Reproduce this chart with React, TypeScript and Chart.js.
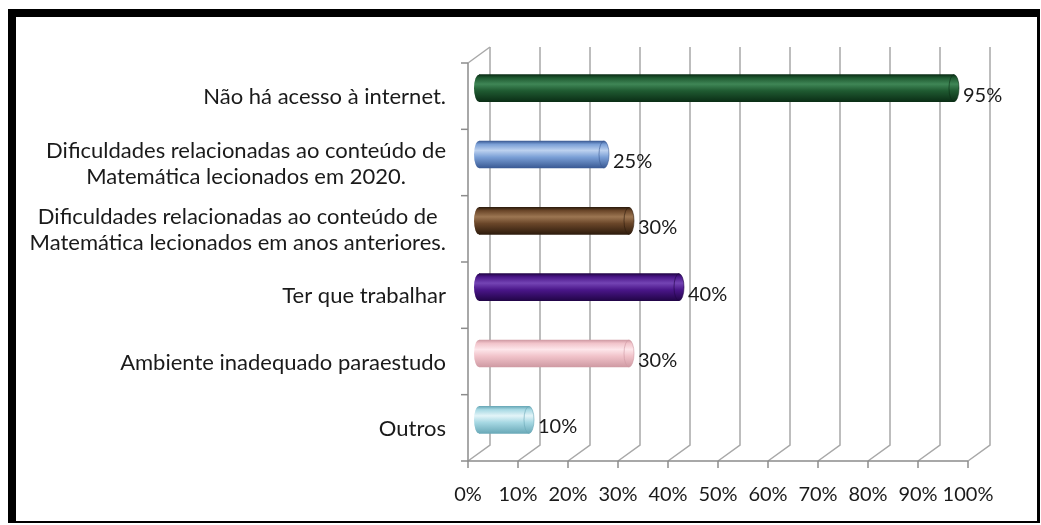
import React, { useEffect, useRef } from "react";
import { Chart, registerables } from "chart.js";

Chart.register(...registerables);

const categories: string[][] = [
  ["Não há acesso à internet."],
  ["Dificuldades relacionadas ao conteúdo de", "Matemática lecionados em 2020."],
  ["Dificuldades relacionadas ao conteúdo de", "Matemática lecionados em anos anteriores."],
  ["Ter que trabalhar"],
  ["Ambiente inadequado paraestudo"],
  ["Outros"],
];
const values = [0.95, 0.25, 0.3, 0.4, 0.3, 0.1];
const valueLabels = ["95%", "25%", "30%", "40%", "30%", "10%"];
const xTickValues = [0, 0.1, 0.2, 0.3, 0.4, 0.5, 0.6, 0.7, 0.8, 0.9, 1];
const xTickLabels = ["0%", "10%", "20%", "30%", "40%", "50%", "60%", "70%", "80%", "90%", "100%"];
// [dark edge, base, highlight]
const barColors: string[][] = [
  ["#0b2e16", "#1f5a31", "#3f8656"],
  ["#3a5a94", "#7a9fd6", "#bcd1ef"],
  ["#2e1c0d", "#6a4629", "#9c7652"],
  ["#220548", "#4a1689", "#7444b4"],
  ["#cf9aa3", "#f1c3ca", "#fde6ea"],
  ["#6aa9b8", "#a6d8e3", "#e3f4f8"],
];

const FONT = "Lato, 'Noto Sans', sans-serif";
const DEPTH_X = 22;
const DEPTH_Y = -16;
const BAR_H = 27;

function makeGradient(ctx: CanvasRenderingContext2D, yc: number, c: string[]) {
  const g = ctx.createLinearGradient(0, yc - BAR_H / 2, 0, yc + BAR_H / 2);
  g.addColorStop(0, c[0]);
  g.addColorStop(0.12, c[1]);
  g.addColorStop(0.35, c[2]);
  g.addColorStop(0.6, c[1]);
  g.addColorStop(1, c[0]);
  return g;
}

const framePlugin = {
  id: "frame3d",
  beforeDatasetsDraw(chart: any) {
    const { ctx, chartArea } = chart;
    const xs = chart.scales.x;
    const { left, top, bottom } = chartArea;
    const n = categories.length;
    const h = (bottom - top) / n;
    ctx.save();
    ctx.strokeStyle = "#a8a8a8";
    ctx.lineWidth = 1.5;
    xTickValues.forEach((v) => {
      const x = xs.getPixelForValue(v);
      ctx.beginPath();
      ctx.moveTo(x + DEPTH_X, top + DEPTH_Y);
      ctx.lineTo(x + DEPTH_X, bottom + DEPTH_Y);
      ctx.lineTo(x, bottom);
      ctx.stroke();
    });
    ctx.beginPath();
    ctx.moveTo(left, top);
    ctx.lineTo(left + DEPTH_X, top + DEPTH_Y);
    ctx.stroke();
    ctx.strokeStyle = "#8c8c8c";
    ctx.beginPath();
    ctx.moveTo(left, top);
    ctx.lineTo(left, bottom);
    ctx.lineTo(xs.getPixelForValue(1), bottom);
    ctx.stroke();
    for (let k = 0; k <= n; k++) {
      const y = top + k * h;
      ctx.beginPath();
      ctx.moveTo(left - 7, y);
      ctx.lineTo(left, y);
      ctx.stroke();
    }
    xTickValues.forEach((v) => {
      const x = xs.getPixelForValue(v);
      ctx.beginPath();
      ctx.moveTo(x, bottom);
      ctx.lineTo(x, bottom + 7);
      ctx.stroke();
    });
    ctx.restore();
    ctx.save();
    ctx.translate(DEPTH_X / 2, DEPTH_Y / 2);
  },
  afterDatasetsDraw(chart: any) {
    const { ctx } = chart;
    const meta = chart.getDatasetMeta(0);
    meta.data.forEach((el: any, i: number) => {
      const c = barColors[i];
      const g = makeGradient(ctx, el.y, c);
      const ry = el.height / 2;
      ctx.beginPath();
      ctx.ellipse(el.base, el.y, 5, ry, 0, 0, Math.PI * 2);
      ctx.fillStyle = g;
      ctx.fill();
      ctx.beginPath();
      ctx.ellipse(el.x, el.y, 5, ry, 0, 0, Math.PI * 2);
      ctx.fillStyle = g;
      ctx.fill();
      ctx.strokeStyle = c[0];
      ctx.globalAlpha = 0.6;
      ctx.lineWidth = 1;
      ctx.stroke();
      ctx.globalAlpha = 1;
    });
    ctx.restore();
    const ys = chart.scales.y;
    ctx.save();
    ctx.font = `20px ${FONT}`;
    ctx.fillStyle = "#1a1a1a";
    ctx.textAlign = "left";
    ctx.textBaseline = "middle";
    meta.data.forEach((el: any, i: number) => {
      const y = ys.getPixelForValue(i) - 1;
      ctx.fillText(valueLabels[i], el.x + DEPTH_X / 2 + 9, y);
    });
    ctx.restore();
  },
  afterDraw(chart: any) {
    const { ctx, chartArea } = chart;
    const ys = chart.scales.y;
    ctx.save();
    ctx.font = `22px ${FONT}`;
    ctx.fillStyle = "#1a1a1a";
    ctx.textAlign = "center";
    ctx.textBaseline = "middle";
    const right = chartArea.left - 22;
    const lh = 26;
    categories.forEach((lines, i) => {
      const yc = ys.getPixelForValue(i) + 1;
      const w = Math.max(...lines.map((l) => ctx.measureText(l).width));
      const cx = right - w / 2;
      lines.forEach((l, j) => {
        ctx.fillText(l, cx, yc + (j - (lines.length - 1) / 2) * lh);
      });
    });
    ctx.restore();
  },
};

export default function App() {
  const ref = useRef<HTMLCanvasElement>(null);
  useEffect(() => {
    if (!ref.current) return;
    const chart = new Chart(ref.current, {
      type: "bar",
      data: {
        labels: categories.map((c) => c.join(" ")),
        datasets: [
          {
            data: values,
            barThickness: BAR_H,
            borderWidth: 0,
            backgroundColor: (c: any) => {
              const chart = c.chart;
              if (!chart.chartArea) return barColors[c.dataIndex][1];
              const y = chart.scales.y.getPixelForValue(c.dataIndex);
              return makeGradient(chart.ctx, y, barColors[c.dataIndex]);
            },
          },
        ],
      },
      options: {
        indexAxis: "y",
        responsive: false,
        animation: false,
        devicePixelRatio: 1,
        layout: { padding: { left: 468, right: 73, top: 63, bottom: 0 } },
        plugins: { legend: { display: false }, tooltip: { enabled: false } },
        scales: {
          y: { type: "category", display: false, offset: true },
          x: {
            type: "linear",
            min: 0,
            max: 1,
            afterFit: (s: any) => {
              s.height = 64;
            },
            afterBuildTicks: (s: any) => {
              s.ticks = xTickValues.map((v) => ({ value: v }));
            },
            grid: { display: false },
            border: { display: false },
            ticks: {
              padding: 14,
              color: "#1a1a1a",
              font: { family: FONT, size: 20 },
              maxRotation: 0,
              autoSkip: false,
              callback: (_v: any, i: number) => xTickLabels[i],
            },
          },
        },
      },
      plugins: [framePlugin],
    });
    return () => chart.destroy();
  }, []);
  return (
    <div style={{ position: "fixed", left: 0, top: 0, width: 1041, height: 525, background: "#fff" }}>
      <canvas ref={ref} width={1041} height={525} style={{ position: "absolute", left: 0, top: 0 }} />
      <div
        style={{
          position: "absolute",
          left: 8,
          top: 9,
          width: 1032,
          height: 514,
          boxSizing: "border-box",
          borderLeft: "8px solid #000",
          borderTop: "8px solid #000",
          borderRight: "3px solid #000",
          borderBottom: "2px solid #000",
          pointerEvents: "none",
        }}
      />
    </div>
  );
}
